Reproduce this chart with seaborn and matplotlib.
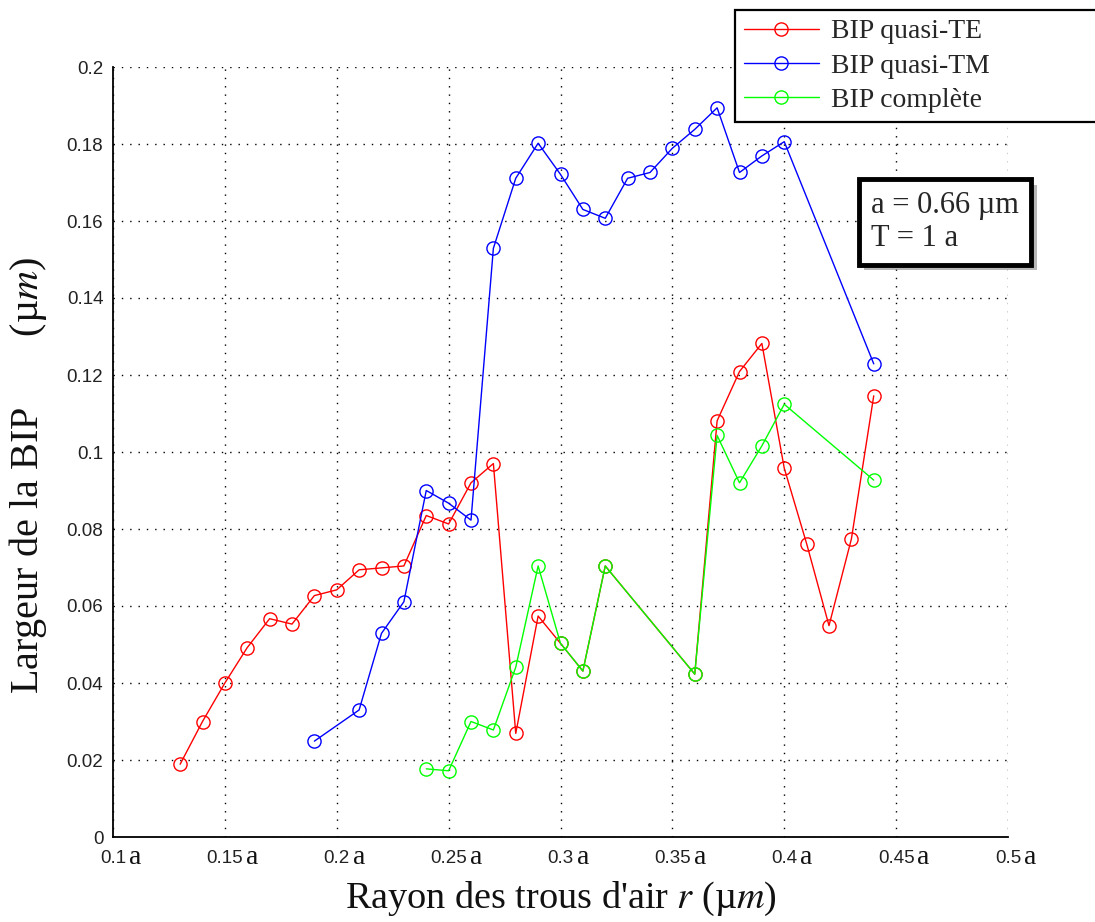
import matplotlib
matplotlib.use("Agg")
import matplotlib.pyplot as plt
import seaborn as sns
import pandas as pd
from matplotlib import patheffects as pe

# Rayon des trous (en unités de a) et largeur de bande interdite (µm)
r_te = [0.13, 0.14, 0.15, 0.16, 0.17, 0.18, 0.19, 0.20, 0.21, 0.22, 0.23, 0.24,
        0.25, 0.26, 0.27, 0.28, 0.29, 0.30, 0.31, 0.32, 0.36, 0.37, 0.38, 0.39,
        0.40, 0.41, 0.42, 0.43, 0.44]
gap_te = [0.0189, 0.0300, 0.0400, 0.0492, 0.0567, 0.0553, 0.0627, 0.0642, 0.0694,
          0.0699, 0.0704, 0.0835, 0.0813, 0.0920, 0.0970, 0.0269, 0.0574, 0.0503,
          0.0431, 0.0704, 0.0423, 0.1081, 0.1209, 0.1282, 0.0958, 0.0762, 0.0549,
          0.0774, 0.1146]

r_tm = [0.19, 0.21, 0.22, 0.23, 0.24, 0.25, 0.26, 0.27, 0.28, 0.29, 0.30, 0.31,
        0.32, 0.33, 0.34, 0.35, 0.36, 0.37, 0.38, 0.39, 0.40, 0.44]
gap_tm = [0.0249, 0.0330, 0.0529, 0.0611, 0.0900, 0.0867, 0.0823, 0.1529, 0.1711,
          0.1802, 0.1721, 0.1630, 0.1607, 0.1711, 0.1726, 0.1789, 0.1838, 0.1894,
          0.1726, 0.1769, 0.1806, 0.1229]

r_full = [0.24, 0.25, 0.26, 0.27, 0.28, 0.29, 0.30, 0.31, 0.32, 0.36, 0.37, 0.38,
          0.39, 0.40, 0.44]
gap_full = [0.0177, 0.0172, 0.0300, 0.0278, 0.0441, 0.0704, 0.0503, 0.0431, 0.0704,
            0.0423, 0.1043, 0.0920, 0.1016, 0.1124, 0.0927]

series_labels = ["BIP quasi-TE", "BIP quasi-TM", "BIP complète"]
series_colors = ["#ff0000", "#0000ff", "#00ff00"]

x_ticks = [0.1, 0.15, 0.2, 0.25, 0.3, 0.35, 0.4, 0.45, 0.5]
x_tick_labels = ["0.1", "0.15", "0.2", "0.25", "0.3", "0.35", "0.4", "0.45", "0.5"]
y_ticks = [0, 0.02, 0.04, 0.06, 0.08, 0.1, 0.12, 0.14, 0.16, 0.18, 0.2]
y_tick_labels = ["0", "0.02", "0.04", "0.06", "0.08", "0.1", "0.12", "0.14",
                 "0.16", "0.18", "0.2"]

sns.set_theme(style="white")
plt.rcParams["font.family"] = ["Liberation Serif", "DejaVu Serif"]
plt.rcParams["mathtext.fontset"] = "stix"

fig = plt.figure(figsize=(10.95, 9.22), dpi=100)
ax = fig.add_axes([113 / 1095, 85 / 922, 895 / 1095, 770 / 922])
ax.set_facecolor("white")

frames = [
    pd.DataFrame({"r": r_te, "gap": gap_te}),
    pd.DataFrame({"r": r_tm, "gap": gap_tm}),
    pd.DataFrame({"r": r_full, "gap": gap_full}),
]
for df, lab, col in zip(frames, series_labels, series_colors):
    sns.lineplot(data=df, x="r", y="gap", ax=ax, color=col, label=lab,
                 marker="o", markersize=9.5, markerfacecolor="none",
                 markeredgecolor=col, markeredgewidth=1.0, linewidth=1.0,
                 sort=False, estimator=None)

ax.set_xlim(0.1, 0.5)
ax.set_ylim(0, 0.2)
ax.set_xticks(x_ticks, x_tick_labels)
ax.set_yticks(y_ticks, y_tick_labels)
for lab in ax.get_xticklabels() + ax.get_yticklabels():
    lab.set_family(["Liberation Sans", "DejaVu Sans"])
    lab.set_fontsize(13.5)
    lab.set_color("#222222")
ax.tick_params(axis="both", direction="in", length=6, width=1.0, color="black")
ax.tick_params(axis="x", pad=9)
ax.tick_params(axis="y", pad=7)

ax.grid(True, color="black", linestyle=(0, (1, 5)), linewidth=1.0)
for side in ("top", "right"):
    ax.spines[side].set_visible(False)
for side in ("left", "bottom"):
    ax.spines[side].set_color("black")
    ax.spines[side].set_linewidth(1.3)

ax.set_xlabel("Rayon des trous d'air $r$ (µ$m$)", fontsize=27.5, color="#111111")
ax.set_ylabel("Largeur de la BIP       (µ$m$)", fontsize=29, color="#111111")
ax.xaxis.set_label_coords(0.5, -0.056)
ax.yaxis.set_label_coords(-0.072, 0.47)

leg = ax.legend(loc="upper left", bbox_to_anchor=(735 / 1095, 802 / 922, 370 / 1095, 110 / 922),
                bbox_transform=fig.transFigure, mode="expand", borderaxespad=0,
                fontsize=20, frameon=True, fancybox=False, handlelength=2.7,
                handletextpad=0.45, labelspacing=0.32, borderpad=0.32)
leg.get_frame().set_edgecolor("black")
leg.get_frame().set_linewidth(1.6)
leg.get_frame().set_alpha(1)

info = fig.text(871 / 1095, 1 - 222 / 922, "a = 0.66 µm\nT = 1 a", fontsize=22,
                ha="left", va="center", linespacing=1.15,
                bbox=dict(boxstyle="square,pad=0.4", fc="white", ec="black", lw=3.5))
info.get_bbox_patch().set_path_effects([
    pe.SimplePatchShadow(offset=(4, -4), shadow_rgbFace="#888888", alpha=0.6),
    pe.Normal(),
])

# unité « a » après chaque valeur de l'axe x
fig.canvas.draw()
renderer = fig.canvas.get_renderer()
for lab in ax.get_xticklabels():
    bb = lab.get_window_extent(renderer)
    fig.text((bb.x1 + 3) / fig.bbox.width, (bb.y0 + 3) / fig.bbox.height, "a",
             fontsize=20, ha="left", va="baseline", color="#111111")

fig.savefig("out.png", dpi=100, facecolor="white")
